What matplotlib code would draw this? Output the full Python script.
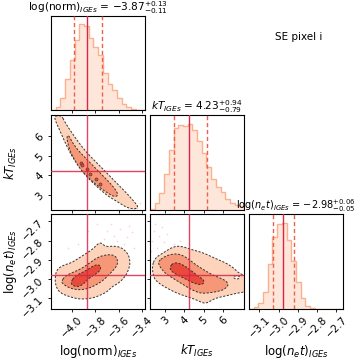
import numpy as np
import matplotlib

matplotlib.use("Agg")
import matplotlib.pyplot as plt

# ---------------------------------------------------------------- data
NAMES = ["norm", "kT", "net"]
LABELS = [r"$\mathrm{log(norm)}_{IGEs}$", r"$kT_{IGEs}$", r"$\log(n_e t)_{IGEs}$"]
MEDIANS = [-3.87, 4.23, -2.98]
ERR_HI = [0.13, 0.94, 0.06]
ERR_LO = [0.11, 0.79, 0.05]
RANGES = [(-4.18, -3.37), (2.23, 7.07), (-3.155, -2.665)]
TICKS = [[-4.0, -3.8, -3.6, -3.4], [3, 4, 5, 6], [-3.1, -3.0, -2.9, -2.8, -2.7]]
TICK_LABELS = [["−4.0", "−3.8", "−3.6", "−3.4"], ["3", "4", "5", "6"],
               ["−3.1", "−3.0", "−2.9", "−2.8", "−2.7"]]

# relative histogram heights, 20 bins over each range
HIST_NORM = [0.01, 0.04, 0.15, 0.36, 0.59, 0.82, 1.00, 0.98, 0.84, 0.74,
             0.65, 0.43, 0.31, 0.24, 0.14, 0.07, 0.04, 0.02, 0.01, 0.005]
HIST_KT = [0.01, 0.08, 0.19, 0.42, 0.69, 0.95, 0.98, 0.97, 1.00, 0.93,
           0.80, 0.66, 0.50, 0.36, 0.27, 0.21, 0.12, 0.08, 0.05, 0.04]
HIST_NET = [0.005, 0.02, 0.07, 0.20, 0.52, 0.84, 0.99, 1.00, 0.80, 0.56,
            0.31, 0.13, 0.04, 0.01, 0.005, 0.0, 0.0, 0.0, 0.0, 0.0]

# credible-region outlines (outer, middle, inner), x/y in data units
KT_NORM_OUTER = [(-4.090, 7.06), (-4.062, 6.72), (-4.006, 6.21), (-3.935, 5.61), (-3.865, 5.10),
                 (-3.780, 4.59), (-3.696, 4.08), (-3.612, 3.57), (-3.527, 3.06), (-3.465, 2.64),
                 (-3.429, 2.38), (-3.457, 2.26), (-3.527, 2.33), (-3.598, 2.60), (-3.682, 2.89),
                 (-3.752, 3.23), (-3.823, 3.62), (-3.893, 4.05), (-3.949, 4.51), (-4.006, 5.02),
                 (-4.062, 5.70), (-4.104, 6.29), (-4.141, 6.75), (-4.152, 7.03)]
KT_NORM_MID = [(-4.028, 6.04), (-3.991, 5.61), (-3.935, 5.19), (-3.879, 4.85), (-3.808, 4.42),
               (-3.738, 4.00), (-3.668, 3.57), (-3.612, 3.15), (-3.606, 2.94), (-3.640, 2.89),
               (-3.710, 3.15), (-3.780, 3.45), (-3.851, 3.83), (-3.921, 4.25), (-3.977, 4.76),
               (-4.020, 5.27), (-4.042, 5.78), (-4.042, 6.01)]
KT_NORM_SPOTS = [(-3.921, 4.645), (-3.913, 4.51), (-3.871, 4.29), (-3.842, 4.05),
                 (-3.795, 3.78), (-3.758, 3.57)]

NET_NORM_OUTER = [(-4.146, -2.994), (-4.132, -2.951), (-4.076, -2.928), (-4.006, -2.916),
                  (-3.935, -2.889), (-3.879, -2.868), (-3.823, -2.845), (-3.781, -2.819),
                  (-3.752, -2.810), (-3.710, -2.833), (-3.640, -2.828), (-3.570, -2.837),
                  (-3.513, -2.872), (-3.499, -2.916), (-3.513, -2.951), (-3.541, -2.986),
                  (-3.598, -3.021), (-3.654, -3.038), (-3.696, -3.065), (-3.752, -3.082),
                  (-3.809, -3.096), (-3.879, -3.103), (-3.949, -3.103), (-4.020, -3.091),
                  (-4.076, -3.079), (-4.118, -3.061), (-4.141, -3.030)]
NET_NORM_MID = [(-4.090, -3.012), (-4.062, -2.986), (-4.006, -2.968), (-3.935, -2.951),
                (-3.865, -2.924), (-3.809, -2.898), (-3.738, -2.877), (-3.654, -2.872),
                (-3.612, -2.889), (-3.606, -2.924), (-3.640, -2.951), (-3.682, -2.977),
                (-3.724, -3.003), (-3.781, -3.026), (-3.851, -3.047), (-3.921, -3.056),
                (-3.991, -3.052), (-4.048, -3.038), (-4.084, -3.021)]
NET_NORM_INNER = [(-4.006, -3.012), (-3.977, -2.986), (-3.921, -2.968), (-3.865, -2.951),
                  (-3.823, -2.933), (-3.781, -2.924), (-3.752, -2.933), (-3.758, -2.956),
                  (-3.795, -2.973), (-3.851, -2.994), (-3.893, -3.021), (-3.935, -3.038),
                  (-3.977, -3.038), (-4.006, -3.026)]

NET_KT_OUTER = [(2.333, -2.933), (2.504, -2.889), (2.932, -2.863), (3.274, -2.840), (3.615, -2.828),
                (3.957, -2.833), (4.299, -2.845), (4.641, -2.854), (5.068, -2.868), (5.496, -2.889),
                (5.923, -2.907), (6.265, -2.924), (6.556, -2.945), (6.778, -2.968), (7.20, -2.986),
                (7.20, -3.065), (6.692, -3.073), (6.351, -3.082), (5.923, -3.091), (5.496, -3.103),
                (5.239, -3.121), (4.983, -3.126), (4.641, -3.108), (4.128, -3.091), (3.615, -3.073),
                (3.103, -3.047), (2.675, -3.021), (2.419, -2.994)]
NET_KT_MID = [(2.675, -2.907), (2.932, -2.886), (3.274, -2.872), (3.701, -2.868), (4.128, -2.889),
              (4.556, -2.924), (4.983, -2.951), (5.410, -2.977), (5.838, -2.994), (6.180, -3.012),
              (6.265, -3.033), (6.009, -3.056), (5.667, -3.065), (5.154, -3.073), (4.812, -3.073),
              (4.385, -3.056), (3.957, -3.030), (3.530, -3.003), (3.103, -2.977), (2.846, -2.951),
              (2.675, -2.924)]
NET_KT_INNER = [(3.274, -2.933), (3.445, -2.916), (3.701, -2.916), (4.043, -2.933), (4.385, -2.959),
                (4.727, -2.986), (4.983, -3.003), (5.017, -3.021), (4.812, -3.030), (4.470, -3.021),
                (4.128, -3.003), (3.786, -2.986), (3.445, -2.968), (3.274, -2.951)]
NET_KT_HOLE = [(6.52, -2.990), (6.62, -2.982), (6.80, -2.984), (6.86, -2.992), (6.75, -3.000),
               (6.58, -2.998)]

# stray samples outside the outer contour
PTS_KT_NORM = [(-3.485, 2.468), (-3.443, 2.33), (-3.415, 2.55), (-3.513, 2.26), (-3.465, 2.25)]
PTS_NET_NORM = [(-3.696, -2.749), (-3.640, -2.775), (-3.584, -2.740), (-3.527, -2.784),
                (-3.485, -2.758), (-3.612, -2.802), (-3.555, -2.819), (-3.668, -2.714),
                (-3.471, -2.837), (-3.724, -2.793), (-3.865, -2.749), (-3.949, -2.819),
                (-4.034, -2.837), (-3.781, -2.714), (-3.513, -2.723)]
PTS_NET_KT = [(2.419, -2.749), (2.675, -2.775), (2.333, -2.802), (2.932, -2.810), (2.590, -2.837),
              (3.103, -2.766), (2.846, -2.731), (3.445, -2.819), (2.504, -2.714), (3.274, -2.854),
              (3.786, -2.802), (2.282, -2.854)]

# ---------------------------------------------------------------- style
FILLS = ["#fdd3bc", "#f69877", "#e84a3b"]
HIST_FILL = "#fee7da"
HIST_EDGE = "#fbb08e"
MED_COLOR = "#dc2448"
Q_COLOR = "#ee5f4c"
FS_TICK = 7.5
FS_LAB = 8.5
FS_TITLES = [7.6, 7.6, 7.0]


def chaikin(pts, n=3):
    p = np.asarray(pts, float)
    for _ in range(n):
        q = np.roll(p, -1, axis=0)
        new = np.empty((2 * len(p), 2))
        new[0::2] = 0.75 * p + 0.25 * q
        new[1::2] = 0.25 * p + 0.75 * q
        p = new
    return p


def region(ax, pts, color, z):
    s = chaikin(pts)
    ax.fill(s[:, 0], s[:, 1], color=color, lw=0, zorder=z)
    ax.plot(np.r_[s[:, 0], s[0, 0]], np.r_[s[:, 1], s[0, 1]], ls=(0, (2.2, 1.6)),
            color="0.2", lw=0.7, zorder=z + 0.5)


def stray(ax, pts):
    a = np.asarray(pts)
    ax.scatter(a[:, 0], a[:, 1], s=1.5, color="#f08a80", alpha=0.35, lw=0, zorder=1)


def title_text(i):
    m = MEDIANS[i]
    sign = "-" if m < 0 else ""
    return f"{LABELS[i]} = ${sign}{abs(m):.2f}^{{+{ERR_HI[i]:.2f}}}_{{-{ERR_LO[i]:.2f}}}$"


fig, axes = plt.subplots(3, 3, figsize=(3.57, 3.61), dpi=100)
fig.subplots_adjust(left=0.143, right=0.961, bottom=0.144, top=0.956, wspace=0.05, hspace=0.05)

hists = [HIST_NORM, HIST_KT, HIST_NET]
for i in range(3):
    ax = axes[i][i]
    lo, hi = RANGES[i]
    edges = np.linspace(lo, hi, len(hists[i]) + 1)
    ax.stairs(hists[i], edges, fill=True, color=HIST_FILL, zorder=1)
    ax.stairs(hists[i], edges, color=HIST_EDGE, lw=1.0, zorder=2)
    ax.axvline(MEDIANS[i], color=MED_COLOR, lw=1.0, zorder=3)
    for q in (MEDIANS[i] - ERR_LO[i], MEDIANS[i] + ERR_HI[i]):
        ax.axvline(q, color=Q_COLOR, lw=1.0, ls=(0, (3, 2)), zorder=3)
    ax.set_ylim(0, 1.1 * max(hists[i]))
    ax.set_yticks([])
    ax.set_title(title_text(i), fontsize=FS_TITLES[i], pad=1.5)

# 2D panels
ax = axes[1][0]
region(ax, KT_NORM_OUTER, FILLS[0], 2)
region(ax, KT_NORM_MID, FILLS[1], 3)
sp = np.asarray(KT_NORM_SPOTS)
ax.scatter(sp[:, 0], sp[:, 1], s=5, color=FILLS[2], edgecolor="0.2", lw=0.4, zorder=4)
stray(ax, PTS_KT_NORM)

ax = axes[2][0]
stray(ax, PTS_NET_NORM)
region(ax, NET_NORM_OUTER, FILLS[0], 2)
region(ax, NET_NORM_MID, FILLS[1], 3)
region(ax, NET_NORM_INNER, FILLS[2], 4)

ax = axes[2][1]
stray(ax, PTS_NET_KT)
region(ax, NET_KT_OUTER, FILLS[0], 2)
region(ax, NET_KT_MID, FILLS[1], 3)
region(ax, NET_KT_INNER, FILLS[2], 4)
region(ax, NET_KT_HOLE, "white", 4)

for i in range(3):
    for j in range(3):
        ax = axes[i][j]
        if j > i:
            ax.axis("off")
            continue
        ax.set_xlim(*RANGES[j])
        ax.set_xticks(TICKS[j])
        if j < i:
            ax.set_ylim(*RANGES[i])
            ax.set_yticks(TICKS[i])
            ax.axvline(MEDIANS[j], color=MED_COLOR, lw=1.0, alpha=0.85, zorder=6)
            ax.axhline(MEDIANS[i], color=MED_COLOR, lw=1.0, alpha=0.85, zorder=6)
            if j == 0:
                ax.set_yticklabels(TICK_LABELS[i], rotation=45, fontsize=FS_TICK)
                ax.set_ylabel(LABELS[i], fontsize=FS_LAB)
                ax.yaxis.set_label_coords(-0.34, 0.5)
            else:
                ax.set_yticklabels([])
        if i == 2:
            ax.set_xticklabels(TICK_LABELS[j], rotation=45, fontsize=FS_TICK)
            ax.set_xlabel(LABELS[j], fontsize=FS_LAB)
            ax.xaxis.set_label_coords(0.5, -0.36)
        else:
            ax.set_xticklabels([])
        ax.tick_params(length=2.5, width=0.6, pad=1.5)
        for s in ax.spines.values():
            s.set_linewidth(0.8)

fig.text(0.770, 0.8975, "SE pixel i", fontsize=FS_TICK, ha="left", va="center")

fig.savefig("out.png", dpi=100)
